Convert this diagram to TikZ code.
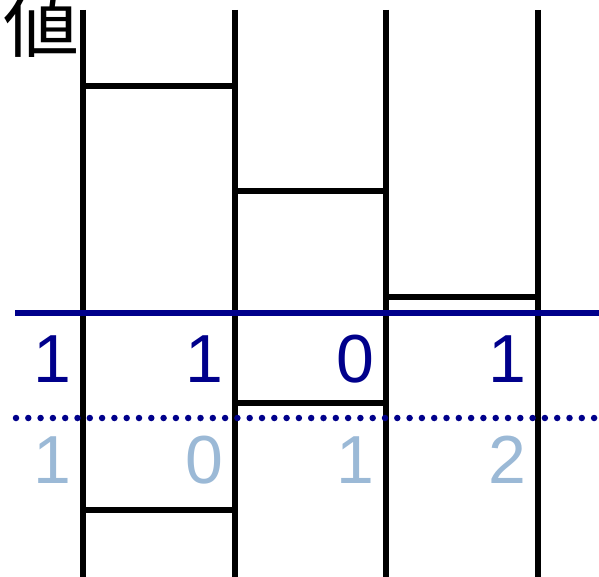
\documentclass[tikz,border=0pt]{standalone}
\usepackage{fontspec}
\setmainfont{Liberation Sans}
\newfontfamily\cjk{Noto Sans CJK JP}
\definecolor{navyc}{RGB}{0,0,139}
\definecolor{lightc}{RGB}{155,185,214}
\begin{document}
\begin{tikzpicture}[x=1pt,y=-1pt,
  bar/.style={line width=5.5pt,black},
  solidline/.style={line width=5.5pt,navyc},
  dotline/.style={line width=6.5pt,navyc,line cap=round,dash pattern=on 0pt off 12.3pt},
  numtop/.style={anchor=base east,inner sep=0pt,font=\fontsize{68}{68}\selectfont,text=navyc},
  numbot/.style={anchor=base east,inner sep=0pt,font=\fontsize{68}{68}\selectfont,text=lightc}]
\useasboundingbox (0,0) rectangle (599,577);
% verticals
\foreach \n/\x in {a/83,b/235,c/386,d/538}{
  \coordinate (\n t) at (\x,10);
  \coordinate (\n b) at (\x,577);
  \draw[bar] (\n t) -- (\n b);
}
% horizontal steps
\draw[bar] (83,86) -- (235,86);
\draw[bar] (235,191) -- (386,191);
\draw[bar] (386,297) -- (538,297);
\draw[bar] (235,403) -- (386,403);
\draw[bar] (83,510) -- (235,510);
% reference lines
\coordinate (sl) at (15,313);
\coordinate (sr) at (599,313);
\draw[solidline] (sl) -- (sr);
\coordinate (dl) at (16,418);
\coordinate (dr) at (599,418);
\draw[dotline] (dl) -- (dr);
% numbers
\node[numtop] (t1) at (72,382) {1};
\node[numtop] (t2) at (224,382) {1};
\node[numtop] (t3) at (375,382) {0};
\node[numtop] (t4) at (527,382) {1};
\node[numbot] (b1) at (72,483) {1};
\node[numbot] (b2) at (224,483) {0};
\node[numbot] (b3) at (375,483) {1};
\node[numbot] (b4) at (527,483) {2};
% label
\node[anchor=base,inner sep=0pt,font=\cjk\fontsize{76}{76}\selectfont] (lbl) at (41,52) {値};
\end{tikzpicture}
\end{document}
